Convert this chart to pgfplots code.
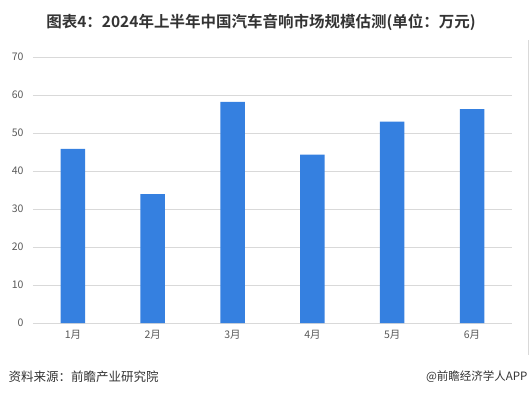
\documentclass[border=0pt]{standalone}
\usepackage{pgfplots}
\pgfplotsset{compat=1.18}
\usepackage{fontspec}
\setmainfont{Noto Sans CJK SC}
\newfontfamily\cjkb{Noto Sans CJK SC Bold}
\definecolor{barblue}{RGB}{53,128,224}
\definecolor{gridgray}{RGB}{217,217,217}
\definecolor{txtgray}{RGB}{89,89,89}
\definecolor{titlegray}{RGB}{51,51,51}
\begin{document}
\begin{tikzpicture}[x=1pt,y=1pt]
\path[use as bounding box] (0,0) rectangle (531,-397);
\node[font=\cjkb\fontsize{15.5}{17}\selectfont, text=titlegray] at (261,-22) {图表4：2024年上半年中国汽车音响市场规模估测(单位：万元)};
\draw[gridgray, line width=0.8pt] (528,-40) -- (528,-355);
\begin{axis}[
  at={(33pt,-323pt)}, anchor=south west,
  scale only axis, width=479pt, height=266pt,
  xmin=-0.5, xmax=5.5, ymin=0, ymax=70,
  ytick={0,10,...,70},
  xtick={0,1,2,3,4,5},
  xticklabels={1月,2月,3月,4月,5月,6月},
  ymajorgrids, grid style={gridgray, line width=0.8pt},
  axis line style={draw=none},
  major tick length=0pt,
  tick label style={font=\fontsize{10.5}{12}\selectfont, text=txtgray},
  yticklabel style={xshift=-6pt},
  xticklabel style={yshift=-4pt},
  /pgf/number format/assume math mode=true,
  ybar, bar width=24.5pt,
  clip=false,
]
\addplot[fill=barblue, draw=none] coordinates {(0,45.8) (1,33.9) (2,58.2) (3,44.3) (4,53.0) (5,56.3)};
\end{axis}
\node[anchor=west, font=\fontsize{12.5}{14}\selectfont, text=titlegray] at (5,-377) {资料来源：前瞻产业研究院};
\node[anchor=east, font=\fontsize{11.5}{14}\selectfont, text=titlegray] at (531,-377) {@前瞻经济学人APP};
\end{tikzpicture}
\end{document}
